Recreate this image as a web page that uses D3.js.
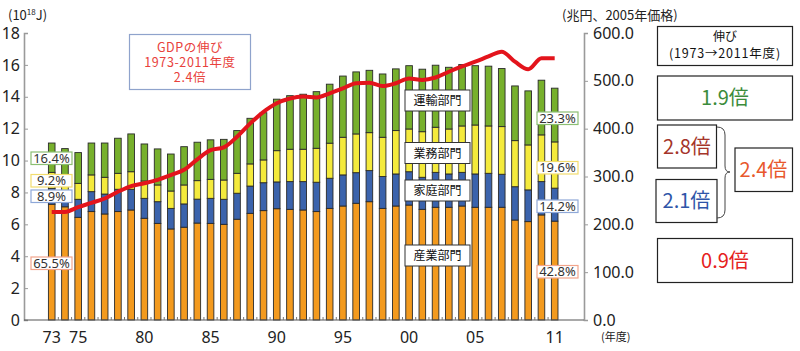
<!DOCTYPE html>
<html>
<head>
<meta charset="utf-8">
<script src="https://cdn.jsdelivr.net/npm/d3@7"></script>
<style>
  body { margin: 0; background: #fff; }
  text { font-family: "Noto Sans CJK JP", "Noto Sans", sans-serif; }
</style>
</head>
<body>
<div id="chart"></div>
<script>
// fiscal years 1973 - 2011
var years = [1973,1974,1975,1976,1977,1978,1979,1980,1981,1982,1983,1984,1985,1986,1987,1988,1989,1990,
  1991,1992,1993,1994,1995,1996,1997,1998,1999,2000,2001,2002,2003,2004,2005,2006,2007,2008,2009,2010,2011];

// final energy consumption by sector (10^18 J)
var industry = [7.26,7.1,6.44,6.8,6.65,6.8,6.9,6.38,6.06,5.71,5.82,6.08,6.06,6.0,6.32,6.69,6.86,6.98,
  6.94,6.9,6.8,7.0,7.15,7.32,7.42,7.0,7.15,7.21,6.94,7.07,7.07,7.15,7.07,7.07,7.07,6.27,6.17,6.59,6.2];
var household = [1.0,0.95,1.13,1.25,1.25,1.4,1.3,1.25,1.36,1.29,1.46,1.5,1.57,1.57,1.63,1.71,1.75,1.68,
  1.74,1.78,1.84,1.89,1.95,1.92,1.95,2.0,2.01,2.09,2.01,2.19,2.09,2.11,2.09,2.13,2.07,2.09,1.99,2.09,2.07];
var commercial = [1.0,0.95,1.0,1.05,1.05,1.0,1.1,1.09,1.05,1.09,1.19,1.16,1.19,1.21,1.25,1.39,1.43,1.96,
  2.03,2.03,2.13,2.2,2.36,2.43,2.38,2.46,2.72,2.68,2.86,2.83,2.82,2.91,3.07,2.97,2.99,2.89,2.82,2.93,2.9];
var transport = [1.84,1.75,1.93,2.0,2.15,2.2,2.37,2.32,2.26,2.32,2.4,2.41,2.48,2.55,2.68,2.86,2.96,3.23,
  3.36,3.45,3.55,3.7,3.84,3.89,3.91,3.97,3.87,3.97,3.92,3.89,3.87,3.85,3.72,3.75,3.64,3.43,3.39,3.43,3.37];

// real GDP (trillion yen, 2005 prices)
var gdp = [226,226,236,245,254,268,280,286,293,303,314,336,355,361,383,411,435,453,
  463,467,465,474,484,495,496,489,495,505,502,507,519,530,540,551,561,540,524,547,547];

var tickYears = [1973,1975,1980,1985,1990,1995,2000,2005,2011];
var tickLabels = ["73","75","80","85","90","95","00","05","11"];
var leftTicks = [0,2,4,6,8,10,12,14,16,18];
var rightTicks = [0,100,200,300,400,500,600];

var keys = ["industry","household","commercial","transport"];
var colors = { industry: "#f39a1e", household: "#3b63ac", commercial: "#f4ea3c", transport: "#77b02c" };

var rows = years.map(function (yr, i) {
  return { year: yr, industry: industry[i], household: household[i],
           commercial: commercial[i], transport: transport[i], gdp: gdp[i] };
});

const width = 800, height = 351;

var svg = d3.select("#chart").append("svg")
  .attr("width", width)
  .attr("height", height);

var x = d3.scaleBand().domain(years).range([45.1, 561.3]).paddingInner(0.5).paddingOuter(0.25);
var y = d3.scaleLinear().domain([0, 18]).range([320, 33]);
var y2 = d3.scaleLinear().domain([0, 600]).range([320, 33]);

// stacked bars
var series = d3.stack().keys(keys)(rows);

svg.append("g").selectAll("g")
  .data(series)
  .join("g")
  .attr("fill", function (s) { return colors[s.key]; })
  .selectAll("rect")
  .data(function (s) { return s; })
  .join("rect")
  .attr("x", function (d) { return x(d.data.year); })
  .attr("width", x.bandwidth())
  .attr("y", function (d) { return y(d[1]); })
  .attr("height", function (d) { return y(d[0]) - y(d[1]); })
  .attr("stroke", "#2a2a2a")
  .attr("stroke-width", 0.9);

// left axis
var leftAxis = svg.append("g")
  .attr("transform", "translate(24,0)")
  .call(d3.axisLeft(y).tickValues(leftTicks).tickSize(-4).tickPadding(4).tickFormat(d3.format("d")));
leftAxis.select(".domain").attr("stroke", "#9a9a9a").attr("stroke-width", 1.6);
leftAxis.selectAll(".tick line").attr("stroke", "#9a9a9a");
leftAxis.selectAll(".tick text").attr("font-size", 16).attr("fill", "#222")
  .style("font-family", "'Noto Sans', sans-serif");

// right axis
var rightAxis = svg.append("g")
  .attr("transform", "translate(584,0)")
  .call(d3.axisRight(y2).tickValues(rightTicks).tickSize(4).tickPadding(5).tickFormat(d3.format(".1f")));
rightAxis.select(".domain").attr("stroke", "#9a9a9a").attr("stroke-width", 1.6);
rightAxis.selectAll(".tick line").attr("stroke", "#9a9a9a");
rightAxis.selectAll(".tick text").attr("font-size", 16).attr("fill", "#222")
  .style("font-family", "'Noto Sans', sans-serif");

// baseline and small ticks between bars
svg.append("line")
  .attr("x1", 24).attr("x2", 584)
  .attr("y1", y(0)).attr("y2", y(0))
  .attr("stroke", "#555").attr("stroke-width", 1.2);

svg.append("g").selectAll("line")
  .data(years.slice(1))
  .join("line")
  .attr("x1", function (d) { return x(d) - x.step() * x.paddingInner() / 2; })
  .attr("x2", function (d) { return x(d) - x.step() * x.paddingInner() / 2; })
  .attr("y1", y(0)).attr("y2", y(0) - 3)
  .attr("stroke", "#777");

svg.append("g").selectAll("text")
  .data(tickYears)
  .join("text")
  .attr("x", function (d) { return x(d) + x.bandwidth() / 2; })
  .attr("y", 343)
  .attr("text-anchor", "middle")
  .attr("font-size", 16)
  .attr("fill", "#222")
  .style("font-family", "'Noto Sans', sans-serif")
  .text(function (d, i) { return tickLabels[i]; });

// GDP line
var line = d3.line()
  .x(function (d) { return x(d.year) + x.bandwidth() / 2; })
  .y(function (d) { return y2(d.gdp); })
  .curve(d3.curveMonotoneX);

svg.append("path")
  .datum(rows)
  .attr("d", line)
  .attr("fill", "none")
  .attr("stroke", "#e3141c")
  .attr("stroke-width", 4)
  .attr("stroke-linejoin", "round");

// axis titles
var unitL = svg.append("text").attr("x", 8).attr("y", 20).attr("font-size", 13).attr("fill", "#222");
unitL.append("tspan").text("(10");
unitL.append("tspan").attr("dy", -5).attr("font-size", 8).text("18");
unitL.append("tspan").attr("dy", 5).text("J)");

svg.append("text").attr("x", 562).attr("y", 20).attr("font-size", 13).attr("fill", "#222")
  .text("(兆円、2005年価格)");
svg.append("text").attr("x", 601).attr("y", 341).attr("font-size", 11).attr("fill", "#222")
  .text("(年度)");

// share labels
function shareBox(x0, y0, w, h, stroke, label) {
  svg.append("rect").attr("x", x0).attr("y", y0).attr("width", w).attr("height", h)
    .attr("fill", "#fff").attr("stroke", stroke).attr("stroke-width", 1.2);
  svg.append("text").attr("x", x0 + w / 2).attr("y", y0 + h / 2 + 4.5)
    .attr("text-anchor", "middle").attr("font-size", 13).attr("fill", "#333")
    .style("font-family", "'Noto Sans', sans-serif").text(label);
}
shareBox(31, 152, 41, 12.5, "#8cbf73", "16.4%");
shareBox(31, 174.5, 41, 12.5, "#f2dd6e", "9.2%");
shareBox(31, 190, 41, 12.5, "#8fa8d8", "8.9%");
shareBox(31, 257, 41, 12.5, "#f2a58c", "65.5%");
shareBox(537, 112, 41, 12.5, "#8cbf73", "23.3%");
shareBox(537, 161.5, 41, 12.5, "#f2dd6e", "19.6%");
shareBox(537, 200, 41, 12.5, "#8fa8d8", "14.2%");
shareBox(537, 265.5, 41, 12.5, "#f2a58c", "42.8%");

// sector labels
function sectorBox(y0, label) {
  svg.append("rect").attr("x", 405).attr("y", y0).attr("width", 65).attr("height", 21)
    .attr("fill", "#fff").attr("stroke", "#333").attr("stroke-width", 1);
  svg.append("text").attr("x", 437.5).attr("y", y0 + 15)
    .attr("text-anchor", "middle").attr("font-size", 12).attr("fill", "#111").text(label);
}
sectorBox(90, "運輸部門");
sectorBox(142.5, "業務部門");
sectorBox(180, "家庭部門");
sectorBox(245, "産業部門");

// GDP note
svg.append("rect").attr("x", 129.5).attr("y", 34.5).attr("width", 121).attr("height", 55)
  .attr("fill", "#fff").attr("stroke", "#8fa3cc").attr("stroke-width", 1.2);
[["GDPの伸び", 52], ["1973-2011年度", 67], ["2.4倍", 82]].forEach(function (t) {
  svg.append("text").attr("x", 190).attr("y", t[1]).attr("text-anchor", "middle")
    .attr("font-size", 12.5).attr("letter-spacing", 0.6).attr("fill", "#e8413b").text(t[0]);
});

// growth boxes on the right
function growthBox(x0, y0, w, h) {
  svg.append("rect").attr("x", x0).attr("y", y0).attr("width", w).attr("height", h)
    .attr("fill", "#fff").attr("stroke", "#222").attr("stroke-width", 1.2);
}
growthBox(657.5, 26.5, 135, 39);
svg.append("text").attr("x", 725).attr("y", 41).attr("text-anchor", "middle")
  .attr("font-size", 12).attr("fill", "#111").text("伸び");
svg.append("text").attr("x", 725).attr("y", 58).attr("text-anchor", "middle")
  .attr("font-size", 12.5).attr("letter-spacing", 0.8).attr("fill", "#111").text("(1973→2011年度)");

function growthText(cx, cy, color, label) {
  svg.append("text").attr("x", cx).attr("y", cy + 7).attr("text-anchor", "middle")
    .attr("font-size", 20).attr("fill", color).text(label);
}
growthBox(657.5, 76, 135, 44);
growthText(725, 98, "#3b8c3b", "1.9倍");
growthBox(657.5, 125, 59, 43);
growthText(687, 146.5, "#a5352a", "2.8倍");
growthBox(656, 179.5, 61, 43);
growthText(686.5, 201, "#2f55a8", "2.1倍");
growthBox(735, 148, 57.5, 43.5);
growthText(763.5, 170, "#e8582c", "2.4倍");
growthBox(657.5, 238.5, 135, 44);
growthText(725, 260.5, "#e5211d", "0.9倍");

// brace joining 2.8 and 2.1
svg.append("path")
  .attr("d", "M717,127 Q725,127 725,135 L725,166 Q725,172 730,172 Q725,172 725,178 L725,210 Q725,218 717,218")
  .attr("fill", "none").attr("stroke", "#444").attr("stroke-width", 1);
</script>
</body>
</html>
